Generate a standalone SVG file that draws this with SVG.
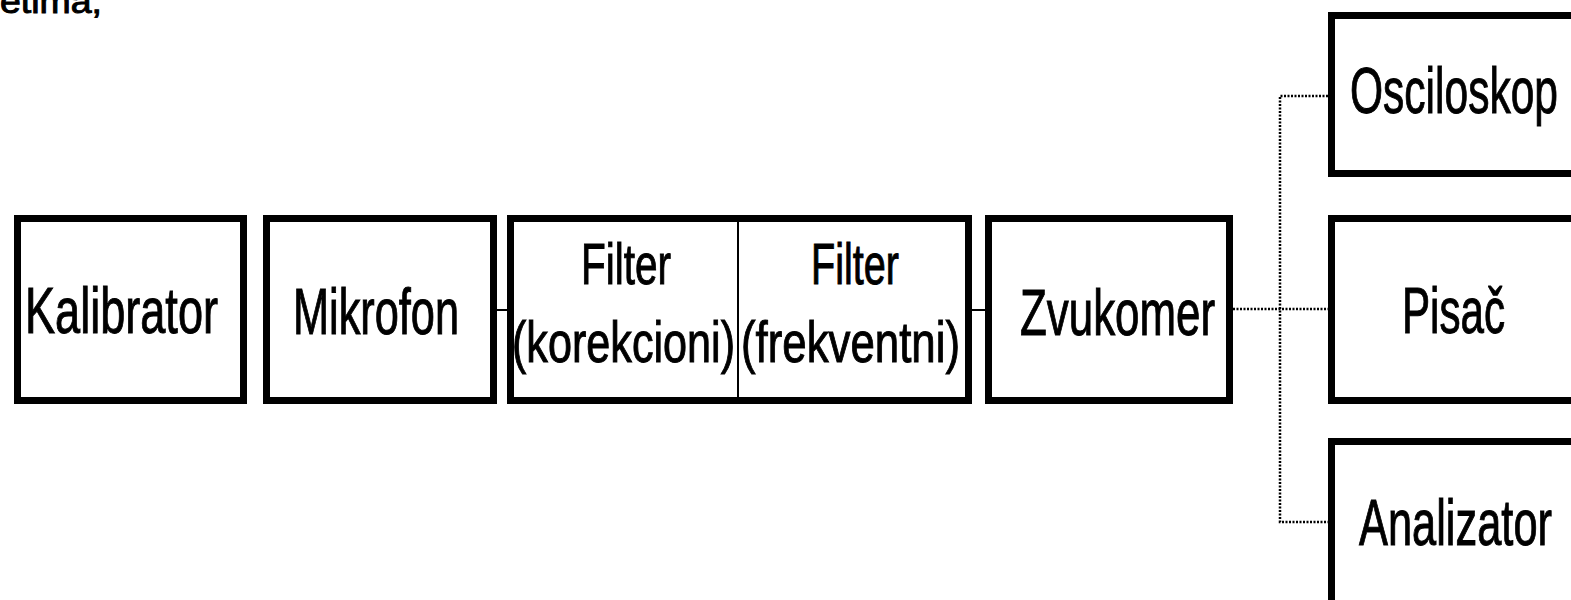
<svg xmlns="http://www.w3.org/2000/svg" width="1571" height="600" viewBox="0 0 1571 600">
<style>
.box{fill:#fff;stroke:#000;stroke-width:7}
.div{stroke:#000;stroke-width:2}
.t{font-family:"Liberation Sans",Arial,sans-serif;font-size:64px;fill:#000;stroke:#000;stroke-width:1}
.tf{font-family:"Liberation Sans",Arial,sans-serif;font-size:57px;fill:#000;stroke:#000;stroke-width:1}
.solid{stroke:#000;stroke-width:2;fill:none}
.dot{stroke:#000;stroke-width:2.5;fill:none;stroke-dasharray:2 1.5}
</style>
<rect width="1571" height="600" fill="#fff"/>
<text x="0" y="13" font-family="'Liberation Sans',Arial,sans-serif" font-size="34" stroke="#000" stroke-width="1" textLength="102" lengthAdjust="spacingAndGlyphs">etima;</text>
<g id="connectors">
<line class="solid" x1="497" y1="310" x2="508" y2="310"/>
<line class="solid" x1="971" y1="310" x2="986" y2="310"/>
<line class="dot" x1="1233" y1="309" x2="1328" y2="309"/>
<polyline class="dot" points="1328,96 1280,96 1280,522 1328,522"/>
</g>
<g id="kalibrator">
<rect class="box" x="17.5" y="218.5" width="226" height="182"/>
<text class="t" x="25" y="333" textLength="193" lengthAdjust="spacingAndGlyphs">Kalibrator</text>
</g>
<g id="mikrofon">
<rect class="box" x="266.5" y="218.5" width="227" height="182"/>
<text class="t" x="293" y="334" textLength="166" lengthAdjust="spacingAndGlyphs">Mikrofon</text>
</g>
<g id="filter">
<rect class="box" x="510.5" y="218.5" width="458" height="182"/>
<line class="div" x1="738" y1="222" x2="738" y2="397"/>
<text class="tf" x="581" y="284" textLength="90" lengthAdjust="spacingAndGlyphs">Filter</text>
<text class="tf" x="512" y="362" textLength="223" lengthAdjust="spacingAndGlyphs">(korekcioni)</text>
<text class="tf" x="811" y="284" textLength="88" lengthAdjust="spacingAndGlyphs">Filter</text>
<text class="tf" x="741" y="362" textLength="219" lengthAdjust="spacingAndGlyphs">(frekventni)</text>
</g>
<g id="zvukomer">
<rect class="box" x="988.5" y="218.5" width="241" height="182"/>
<text class="t" x="1020" y="335" textLength="195" lengthAdjust="spacingAndGlyphs">Zvukomer</text>
</g>
<g id="osciloskop">
<rect class="box" x="1331.5" y="15.5" width="260" height="158"/>
<text class="t" x="1350" y="113" textLength="208" lengthAdjust="spacingAndGlyphs">Osciloskop</text>
</g>
<g id="pisac">
<rect class="box" x="1331.5" y="218.5" width="260" height="182"/>
<text class="t" x="1402" y="333" textLength="103" lengthAdjust="spacingAndGlyphs">Pisač</text>
</g>
<g id="analizator">
<rect class="box" x="1331.5" y="441.5" width="260" height="200"/>
<text class="t" x="1359" y="545" textLength="193" lengthAdjust="spacingAndGlyphs">Analizator</text>
</g>
</svg>
